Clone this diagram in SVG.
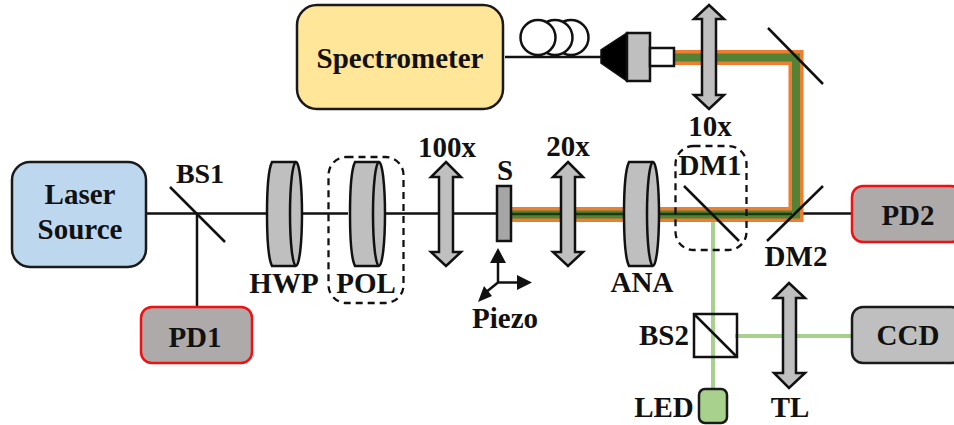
<svg xmlns="http://www.w3.org/2000/svg" width="954" height="425" viewBox="0 0 954 425">
<style>
text{font-family:"Liberation Serif","Times New Roman",serif;font-weight:700;font-size:29px;fill:#111;text-anchor:middle}
.box{stroke:#1a1a1a;stroke-width:2.5}
.pd{fill:#aeaaaa;stroke:#f01010;stroke-width:2.5}
.ln{fill:none;stroke:#111;stroke-width:2.5}
.gr{fill:#bfbfbf;stroke:#111;stroke-width:2.5}
.dash{fill:none;stroke:#111;stroke-width:2.3;stroke-dasharray:7 5}
.lens{fill:#bfbfbf;stroke:#111;stroke-width:2.5}
</style>
<defs>
<path id="wp" d="M-12 -52H12A6 52 0 0 1 12 52H-12C-15 46 -17 26 -17 0C-17 -26 -15 -46 -12 -52Z"/>
<path id="wpa" d="M12 -52A6 52 0 0 0 12 52"/>
</defs>

<g id="connectors">
<path class="ln" d="M146 213.500H266M197 213.500V307M303 213.500H348M385 213.500H496M855 213.500H790"/>
<path d="M713 214V389M735 336H852" fill="none" stroke="#a9d18e" stroke-width="4"/>
<path d="M510 214.500H796V57.500H673" fill="none" stroke="#ed7d31" stroke-width="15"/>
<path d="M510 214.500H796V57.500H673" fill="none" stroke="#548235" stroke-width="8"/>
<path d="M510 214H792" fill="none" stroke="#1c3a14" stroke-width="2.5"/>
<path class="ln" d="M505 57H602"/>
<path class="ln" d="M768 28L823 84M767 241L823 186M684 186L739 241M170 187L225 242"/>
</g>

<g id="spectrometer">
<rect class="box" x="297" y="5" width="206" height="104" rx="20" fill="#ffe699"/>
<text x="400" y="68">Spectrometer</text>
</g>
<g id="fiber-coil">
<circle cx="571" cy="37.500" r="17.500" fill="none" stroke="#111" stroke-width="2.500"/>
<circle cx="555" cy="37.500" r="17.500" fill="#fff" stroke="#111" stroke-width="2.500"/>
<circle cx="538" cy="37.500" r="17.500" fill="#fff" stroke="#111" stroke-width="2.500"/>
</g>
<g id="collimator">
<path d="M601 50L627 33V81L601 63Z" fill="#000" stroke="#111" stroke-width="1.500"/>
<rect x="627" y="33" width="23" height="48" fill="#bfbfbf" stroke="#111" stroke-width="2.500"/>
<rect x="650" y="48" width="24" height="18" fill="#fff" stroke="#111" stroke-width="2.500"/>
</g>
<g id="lens-10x">
<path class="lens" d="M709 5L724 19H716V95H724L709 109L694 95H702V19H694Z"/>
<text x="710" y="136">10x</text>
</g>

<g id="laser">
<rect class="box" x="12" y="162" width="134" height="105" rx="18" fill="#bdd7ee"/>
<text x="80" y="204">Laser</text>
<text x="80" y="239">Source</text>
</g>
<g id="bs1"><text x="200" y="183" style="font-size:28px">BS1</text></g>
<g id="pd1">
<rect class="pd" x="141" y="307" width="111" height="56" rx="11"/>
<text x="195" y="347">PD1</text>
</g>
<g id="hwp">
<use href="#wp" x="284" y="214" class="gr"/>
<use href="#wpa" x="284" y="214" class="ln"/>
<text x="284" y="293">HWP</text>
</g>
<g id="pol">
<rect class="dash" x="328.500" y="157" width="75" height="146" rx="18"/>
<use href="#wp" x="367" y="214" class="gr"/>
<use href="#wpa" x="367" y="214" class="ln"/>
<text x="366" y="293">POL</text>
</g>
<g id="lens-100x">
<path class="lens" d="M446 162L461 177H453V252H461L446 266L431 252H439V177H431Z"/>
<text x="447" y="157">100x</text>
</g>
<g id="sample">
<rect x="497" y="186" width="14" height="55" fill="#a6a6a6" stroke="#111" stroke-width="2.500"/>
<text x="505" y="180">S</text>
</g>
<g id="piezo">
<path class="ln" d="M498 262V282.500H518M498 282.500L485 293"/>
<path d="M498 248L506 263H490ZM532 282.500L517 275V290ZM478 302L492 296L484 286Z" fill="#111"/>
<text x="505" y="328">Piezo</text>
</g>
<g id="lens-20x">
<path class="lens" d="M568 162L583 177H575V252H583L568 266L553 252H561V177H553Z"/>
<text x="568" y="156">20x</text>
</g>
<g id="ana">
<use href="#wp" x="641" y="214" class="gr"/>
<use href="#wpa" x="641" y="214" class="ln"/>
<text x="642" y="292">ANA</text>
</g>
<g id="dm1">
<rect class="dash" x="675.500" y="146" width="71" height="104" rx="18"/>
<text x="710" y="175">DM1</text>
</g>
<g id="dm2"><text x="796" y="266">DM2</text></g>
<g id="pd2">
<rect class="pd" x="852" y="186" width="110" height="56" rx="11"/>
<text x="908" y="225">PD2</text>
</g>
<g id="bs2">
<rect x="694" y="314" width="43" height="43" fill="none" stroke="#111" stroke-width="2.500"/>
<path class="ln" d="M694 314L737 357"/>
<text x="664" y="345">BS2</text>
</g>
<g id="lens-tl">
<path class="lens" d="M789 283L805 298H796V373H805L789 388L774 373H783V298H774Z"/>
<text x="790" y="417">TL</text>
</g>
<g id="ccd">
<rect class="box" x="852" y="307" width="110" height="56" rx="11" fill="#bfbfbf"/>
<text x="908" y="345">CCD</text>
</g>
<g id="led">
<rect class="box" x="699" y="389" width="28" height="34" rx="6" fill="#a9d18e"/>
<text x="664" y="417">LED</text>
</g>
</svg>
